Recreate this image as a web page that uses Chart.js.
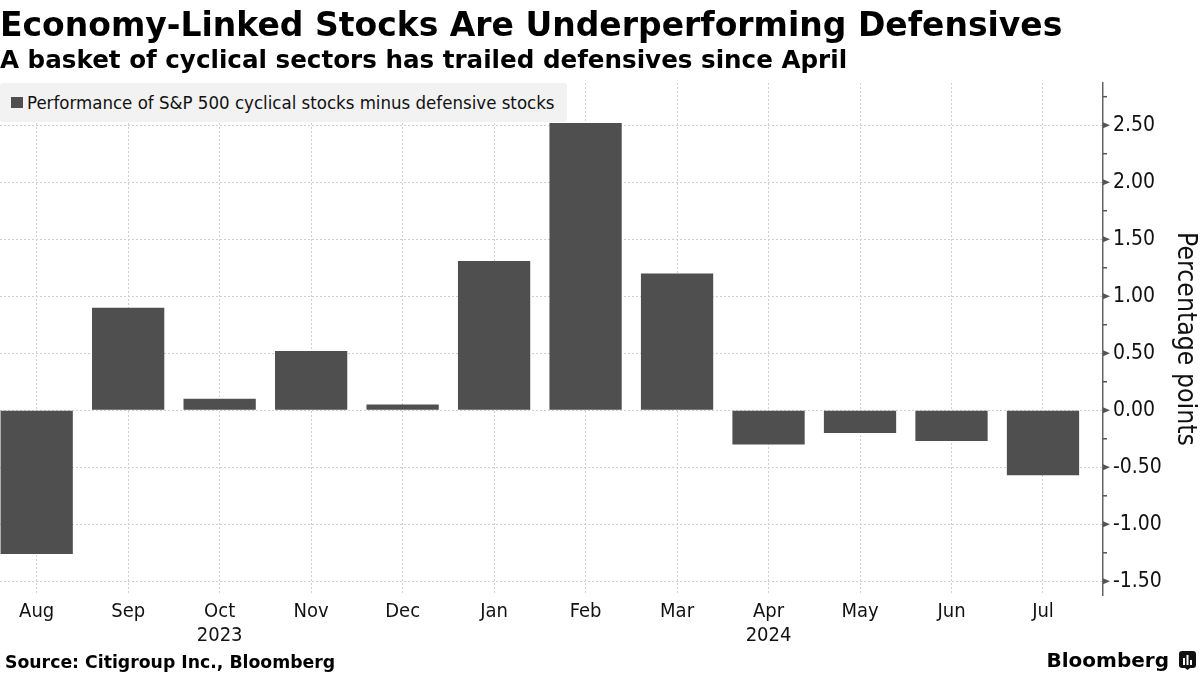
<!DOCTYPE html>
<html>
<head>
<meta charset="utf-8">
<script src="https://cdn.jsdelivr.net/npm/chart.js@4/dist/chart.umd.min.js"></script>
<style>
  body { margin: 0; background: #fff; }
  #wrap { position: relative; width: 1200px; height: 675px; overflow: hidden; }
  #chart { position: absolute; left: 0; top: 0; }
  .title { position: absolute; left: 0; top: 5px; font: bold 33px/40px "DejaVu Sans"; color: #000; white-space: nowrap; }
  .subtitle { position: absolute; left: 0; top: 46px; font: bold 24.6px/28px "DejaVu Sans"; color: #000; white-space: nowrap; }
  #legend { position: absolute; left: 0; top: 83px; height: 39px; padding: 0 12px 0 11px; background: #f2f2f2;
            border-radius: 3px; display: flex; align-items: center; font: 18.5px "DejaVu Sans Condensed"; color: #111; }
  #legend .sw { width: 12px; height: 11px; background: #4f4f4f; margin-right: 4px; }
  .source { position: absolute; left: 5px; top: 651px; font: bold 17.3px/22px "DejaVu Sans"; color: #000; }
  .brand { position: absolute; right: 4px; top: 648px; display: flex; align-items: center; font: bold 20px/24px "DejaVu Sans"; color: #000; }
  .brand svg { margin-left: 10px; }
</style>
</head>
<body>
<div id="wrap">
  <canvas id="chart" width="1200" height="675"></canvas>
  <div class="title">Economy-Linked Stocks Are Underperforming Defensives</div>
  <div class="subtitle">A basket of cyclical sectors has trailed defensives since April</div>
  <div id="legend"><span class="sw"></span><span id="legendText"></span></div>
  <div class="source">Source: Citigroup Inc., Bloomberg</div>
  <div class="brand">Bloomberg<svg width="17" height="19" viewBox="0 0 17 19"><rect x="0" y="0" width="17" height="17" rx="3" fill="#111"/><path d="M6 17 L8.5 19 L11 17 Z" fill="#111"/><rect x="4" y="7" width="2" height="7" fill="#fff"/><rect x="7.5" y="4" width="2" height="10" fill="#fff"/><rect x="11" y="9" width="2" height="5" fill="#fff"/></svg></div>
</div>
<script>
// monthly values, Aug 2023 .. Jul 2024
const months = ['Aug', 'Sep', 'Oct', 'Nov', 'Dec', 'Jan', 'Feb', 'Mar', 'Apr', 'May', 'Jun', 'Jul'];
const years = ['', '', '2023', '', '', '', '', '', '2024', '', '', ''];
const spread = [-1.26, 0.90, 0.10, 0.52, 0.05, 1.31, 2.52, 1.20, -0.30, -0.20, -0.27, -0.57];
const seriesLabel = 'Performance of S&P 500 cyclical stocks minus defensive stocks';

const yMin = -1.62;
const yMax = 2.87;

const isMajor = v => Math.abs(v * 2 - Math.round(v * 2)) < 1e-6;

document.getElementById('legendText').textContent = seriesLabel;

// small arrow ticks on the value axis
const axisTicks = {
    id: 'axisTicks',
    afterDraw(chart) {
        const scale = chart.scales.y;
        const ctx = chart.ctx;
        const x = scale.left;
        ctx.save();
        ctx.fillStyle = '#555';
        ctx.strokeStyle = '#555';
        ctx.lineWidth = 1.5;
        scale.ticks.forEach(t => {
            const y = scale.getPixelForValue(t.value);
            if (isMajor(t.value)) {
                ctx.beginPath();
                ctx.moveTo(x, y - 3);
                ctx.lineTo(x + 7, y);
                ctx.lineTo(x, y + 3);
                ctx.closePath();
                ctx.fill();
            } else {
                ctx.beginPath();
                ctx.moveTo(x, y);
                ctx.lineTo(x + 4, y);
                ctx.stroke();
            }
        });
        ctx.restore();
    }
};

const ctx = document.getElementById('chart').getContext('2d');
new Chart(ctx, {
    type: 'bar',
    data: {
        datasets: [{
            label: seriesLabel,
            data: spread.map((v, i) => ({ x: i, y: v })),
            backgroundColor: '#4f4f4f',
            borderWidth: 0,
            categoryPercentage: 1,
            barPercentage: 0.79,
        }],
    },
    options: {
        responsive: false,
        animation: false,
        layout: { padding: { top: 83, left: 0, right: 0, bottom: 0 } },
        plugins: {
            legend: { display: false },
            tooltip: { enabled: false },
        },
        scales: {
            x: {
                type: 'linear',
                min: -0.401,
                max: 11.656,
                offset: false,
                afterBuildTicks: scale => {
                    scale.ticks = months.map((m, i) => ({ value: i }));
                },
                afterFit: scale => { scale.height = 80; },
                grid: { color: '#cfcfcf', lineWidth: 1, drawTicks: false, offset: false },
                border: { display: false, dash: [2, 2] },
                ticks: {
                    padding: 5,
                    maxRotation: 0,
                    autoSkip: false,
                    color: '#111',
                    font: { family: 'DejaVu Sans Condensed', size: 20, lineHeight: 1.2 },
                    callback: v => years[v] ? [months[v], years[v]] : months[v],
                },
            },
            y: {
                position: 'right',
                min: yMin,
                max: yMax,
                afterFit: scale => { scale.width = 97; },
                grid: {
                    color: c => isMajor(c.tick.value) ? '#cfcfcf' : 'rgba(0,0,0,0)',
                    lineWidth: 1,
                    tickColor: 'rgba(0,0,0,0)',
                    tickLength: 8,
                },
                border: { display: true, color: '#666', width: 1.5, dash: [2, 2] },
                ticks: {
                    stepSize: 0.25,
                    includeBounds: false,
                    padding: 2,
                    color: '#111',
                    font: { family: 'DejaVu Sans Condensed', size: 21 },
                    callback: v => isMajor(v) ? v.toFixed(2) : '',
                },
                title: {
                    display: true,
                    text: 'Percentage points',
                    color: '#111',
                    padding: { top: 0, bottom: 0 },
                    font: { family: 'DejaVu Sans Condensed', size: 26.4, lineHeight: 1.15 },
                },
            },
        },
    },
    plugins: [axisTicks],
});
</script>
</body>
</html>
